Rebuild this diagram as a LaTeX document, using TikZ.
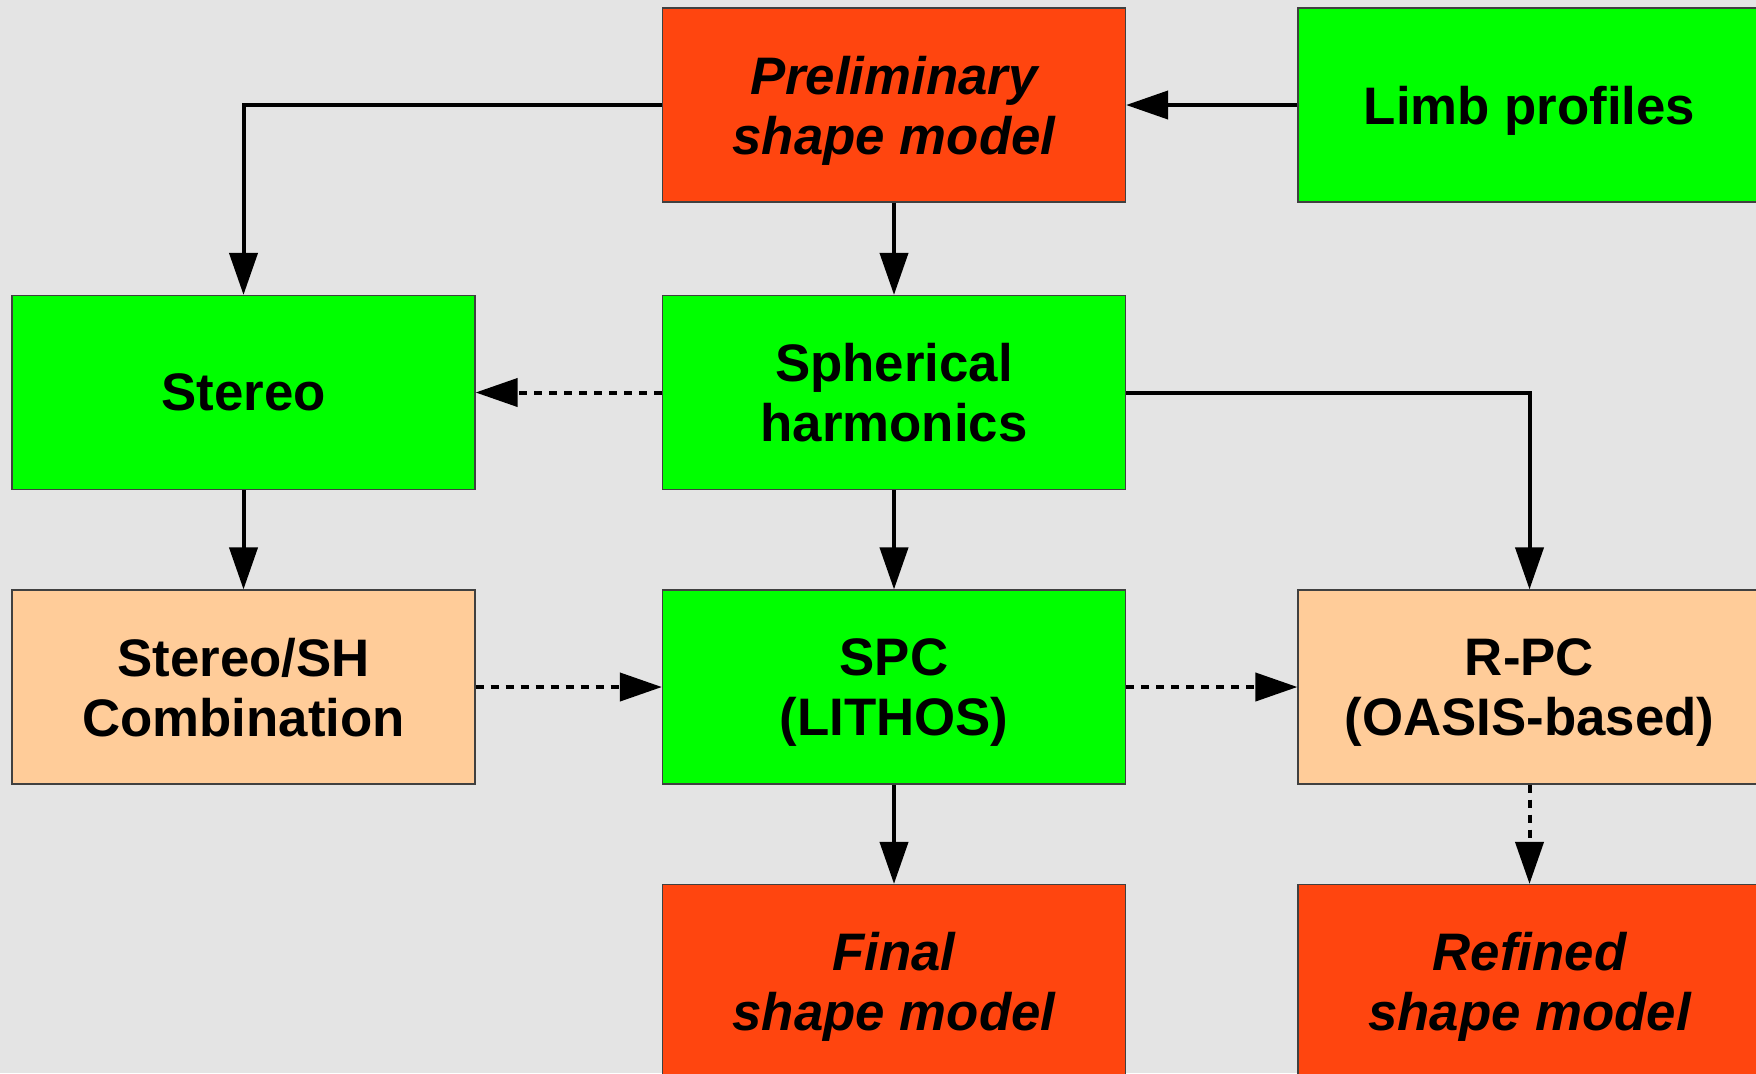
\documentclass[tikz,border=0pt]{standalone}
\usepackage{fontspec}
\setmainfont{Liberation Sans}
\usetikzlibrary{arrows.meta}
\definecolor{bgc}{RGB}{228,228,228}
\definecolor{redbox}{RGB}{255,69,15}
\definecolor{greenbox}{RGB}{0,255,0}
\definecolor{peachbox}{RGB}{255,204,153}
\tikzset{
  box/.style={draw=black!75, line width=0.6pt, minimum width=231.5pt, minimum height=97pt,
    inner sep=0pt},
  txt/.style={align=center, inner sep=0pt, text depth=0pt, font=\bfseries\fontsize{26.4}{30}\selectfont},
  itxt/.style={txt, font=\bfseries\itshape\fontsize{26.4}{30}\selectfont},
  redb/.style={box, fill=redbox},
  greenb/.style={box, fill=greenbox},
  peachb/.style={box, fill=peachbox},
  conn/.style={line width=2pt, -{Triangle[length=21pt,width=14pt]}},
  dconn/.style={conn, dash pattern=on 4pt off 3.5pt}
}
\begin{document}
\begin{tikzpicture}[x=0.5pt,y=-0.5pt]
\fill[bgc] (0,0) rectangle (1756,1073);
\useasboundingbox (0,0) rectangle (1756,1073);
\clip (0,0) rectangle (1756,1073);
\node[redb,   label={[itxt]center:{Preliminary\\shape model}}] (pre)  at (894,105) {};
\node[greenb, label={[txt]center:{Limb profiles}}]              (limb) at (1529.5,105) {};
\node[greenb, label={[txt]center:{Stereo}}]                     (st)   at (243.5,392.5) {};
\node[greenb, label={[txt]center:{Spherical\\harmonics}}]       (sh)   at (894,392.5) {};
\node[peachb, label={[txt]center:{Stereo/SH\\Combination}}]     (ssh)  at (243.5,687) {};
\node[greenb, label={[txt]center:{SPC\\(LITHOS)}}]              (spc)  at (894,687) {};
\node[peachb, label={[txt]center:{R-PC\\(OASIS-based)}}]        (rpc)  at (1529.5,687) {};
\node[redb,   label={[itxt]center:{Final\\shape model}}]        (fin)  at (894,981.5) {};
\node[redb,   label={[itxt]center:{Refined\\shape model}}]      (ref)  at (1529.5,981.5) {};
\draw[conn] (pre.west) -| (st.north);
\draw[conn] (limb.west) -- (pre.east);
\draw[conn] (pre.south) -- (sh.north);
\draw[dconn] (sh.west) -- (st.east);
\draw[conn] (sh.east) -| (rpc.north);
\draw[conn] (sh.south) -- (spc.north);
\draw[conn] (st.south) -- (ssh.north);
\draw[dconn] (ssh.east) -- (spc.west);
\draw[dconn] (spc.east) -- (rpc.west);
\draw[conn] (spc.south) -- (fin.north);
\draw[dconn] (rpc.south) -- (ref.north);
\end{tikzpicture}
\end{document}
